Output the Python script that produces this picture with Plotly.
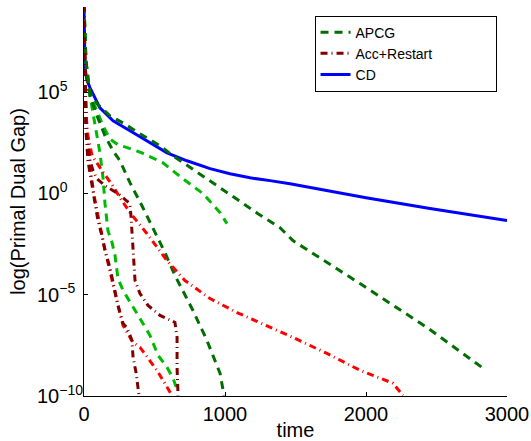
import plotly.graph_objects as go

# ---- data (y given as log10 of the primal-dual gap) ----
cd_x = [0, 2, 7, 20, 43, 113, 206, 326, 447, 589, 730, 894, 1035, 1177, 1319, 1461, 2000, 2454, 3000]
cd_log = [9.3, 7.5, 6.2, 5.6, 5.21, 4.22, 3.58, 3.09, 2.60, 2.0, 1.61, 1.22, 0.97, 0.77, 0.63, 0.48, -0.21, -0.75, -1.34]

apcg1_x = [0, 7, 28, 92, 184, 277, 397, 539, 631, 787, 943, 1085, 1234, 1390, 1482, 1957, 2433, 2823]
apcg1_log = [9.3, 7.03, 5.16, 4.42, 3.83, 3.48, 2.94, 2.35, 1.86, 1.12, 0.38, -0.26, -1.0, -1.69, -2.33, -4.45, -6.62, -8.59]

apcg2_x = [0, 14, 43, 92, 149, 206, 255, 326, 411, 489, 574, 645, 730, 773, 872, 965, 993]
apcg2_log = [9.3, 6.54, 4.81, 3.83, 2.84, 2.10, 1.61, 0.53, -0.61, -1.74, -2.92, -4.05, -5.19, -5.78, -7.26, -8.88, -9.97]

apcg3_x = [0, 14, 43, 92, 135, 184, 241, 312, 411, 560, 702, 844, 965, 1014]
apcg3_log = [9.3, 6.54, 4.81, 4.07, 3.33, 2.69, 2.40, 2.25, 2.0, 1.51, 0.72, -0.01, -0.95, -1.49]

apcg4_x = [0, 14, 43, 64, 78, 113, 135, 149, 170, 199, 220, 241, 277, 326, 376, 418, 468, 525, 589, 631, 667]
apcg4_log = [9.3, 6.54, 4.81, 4.01, 3.32, 2.0, 0.77, -0.51, -1.84, -2.43, -3.07, -4.20, -4.79, -5.38, -5.93, -6.42, -7.01, -7.99, -8.58, -9.12, -9.81]

acc1_x = [0, 7, 14, 43, 64, 92, 149, 241, 326, 333, 348, 362, 397, 454, 539, 645, 660, 660, 667]
acc1_log = [9.3, 5.55, 3.09, 1.61, 1.12, 0.72, 0.38, -0.01, -0.51, -1.10, -2.72, -4.30, -4.94, -5.53, -6.02, -6.37, -7.11, -8.58, -9.97]

acc2_x = [0, 7, 14, 28, 64, 78, 99, 128, 149, 184, 206, 241, 277, 305, 340, 348, 369, 390]
acc2_log = [9.3, 5.55, 3.09, 1.61, 0.13, -0.61, -1.35, -2.09, -2.82, -3.66, -4.40, -5.53, -6.42, -6.62, -7.26, -8.10, -8.84, -9.97]

acc3_x = [0, 7, 21, 57, 128, 199, 255, 326, 447, 589, 716, 894, 1085, 1248, 1482, 1723, 1957, 2191, 2262]
acc3_log = [9.3, 5.55, 3.09, 1.86, 1.12, 0.43, -0.21, -0.95, -1.99, -3.32, -4.30, -5.19, -5.88, -6.37, -7.11, -7.90, -8.73, -9.37, -9.97]

acc4_x = [0, 7, 21, 43, 71, 106, 142, 170, 206, 241, 277, 348, 397, 454, 518, 574, 624]
acc4_log = [9.3, 5.55, 3.09, 1.37, -0.11, -1.35, -2.58, -3.42, -4.55, -5.53, -6.52, -7.36, -7.60, -8.15, -8.74, -9.38, -9.97]

y_tick_exp = [-10, -5, 0, 5]
y_tick_text = ["10<sup>\u221210</sup>", "10<sup>\u22125\u00a0\u00a0</sup>",
               "10<sup>0\u00a0\u00a0\u00a0\u00a0</sup>", "10<sup>5\u00a0\u00a0\u00a0\u00a0</sup>"]
x_ticks = [0, 1000, 2000, 3000]

PAD = "\u00a0" * 15
DARK_GREEN = "rgb(0,110,0)"
LIGHT_GREEN = "rgb(0,185,0)"
DARK_RED = "rgb(128,0,0)"
RED = "rgb(255,0,0)"
BLUE = "rgb(0,0,255)"
DASH = "8px,6px"
DASHDOT = "7px,4px,1px,4px"


def pw(v):
    return [10 ** e for e in v]


fig = go.Figure()
fig.add_trace(go.Scatter(x=cd_x, y=pw(cd_log), mode="lines", name="CD",
                         line=dict(color=BLUE, width=3), legendrank=3))
fig.add_trace(go.Scatter(x=apcg3_x, y=pw(apcg3_log), mode="lines", showlegend=False,
                         line=dict(color=LIGHT_GREEN, width=3, dash=DASH)))
fig.add_trace(go.Scatter(x=apcg4_x, y=pw(apcg4_log), mode="lines", showlegend=False,
                         line=dict(color=LIGHT_GREEN, width=3, dash=DASH)))
fig.add_trace(go.Scatter(x=apcg1_x, y=pw(apcg1_log), mode="lines", name="APCG",
                         line=dict(color=DARK_GREEN, width=3, dash=DASH), legendrank=1))
fig.add_trace(go.Scatter(x=apcg2_x, y=pw(apcg2_log), mode="lines", showlegend=False,
                         line=dict(color=DARK_GREEN, width=3, dash=DASH)))
fig.add_trace(go.Scatter(x=acc3_x, y=pw(acc3_log), mode="lines", showlegend=False,
                         line=dict(color=RED, width=3, dash=DASHDOT)))
fig.add_trace(go.Scatter(x=acc4_x, y=pw(acc4_log), mode="lines", showlegend=False,
                         line=dict(color=RED, width=3, dash=DASHDOT)))
fig.add_trace(go.Scatter(x=acc1_x, y=pw(acc1_log), mode="lines", name="Acc+Restart" + PAD,
                         line=dict(color=DARK_RED, width=3, dash=DASHDOT), legendrank=2))
fig.add_trace(go.Scatter(x=acc2_x, y=pw(acc2_log), mode="lines", showlegend=False,
                         line=dict(color=DARK_RED, width=3, dash=DASHDOT)))

FONT = "Liberation Sans, Arial, sans-serif"
fig.update_layout(
    width=531, height=441,
    margin=dict(l=84, r=24, t=7, b=45),
    paper_bgcolor="white", plot_bgcolor="white",
    font=dict(family=FONT, size=20, color="black"),
    legend=dict(x=0.545, y=0.978, xanchor="left", yanchor="top",
                bgcolor="white", bordercolor="black", borderwidth=1,
                font=dict(family=FONT, size=14, color="black"),
                traceorder="normal"),
    xaxis=dict(range=[0, 3000], tickvals=x_ticks, ticks="inside", ticklen=4,
               tickcolor="black", showline=True, linecolor="black", linewidth=1,
               showgrid=False, zeroline=False, automargin=False,
               title=dict(text="time", standoff=3, font=dict(size=20))),
    yaxis=dict(type="log", range=[-10, 9.2],
               tickvals=[10 ** e for e in y_tick_exp], ticktext=y_tick_text,
               ticks="inside", ticklen=4, tickcolor="black",
               showline=True, linecolor="black", linewidth=1,
               showgrid=False, zeroline=False, automargin=False,
               ticklabelstandoff=-4,
               title=dict(text="log(Primal Dual Gap)", standoff=6, font=dict(size=20))),
)

fig.write_html("out.html", config={"displayModeBar": False},
               post_script="document.body.style.margin='0';document.body.style.overflow='hidden';")
